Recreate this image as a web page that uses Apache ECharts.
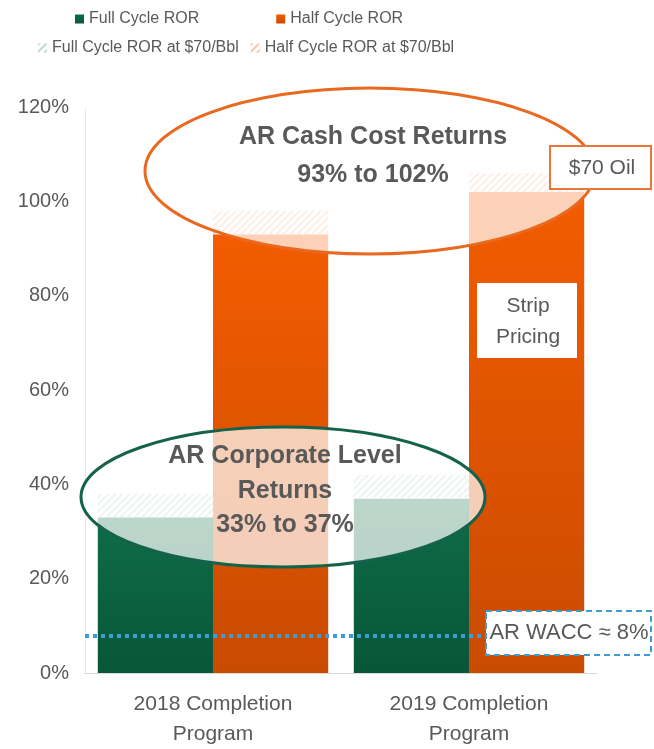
<!DOCTYPE html>
<html>
<head lang="en">
    <meta charset="UTF-8">
    <title>AR ROR</title>
    <style type="text/css">
        html, body { margin: 0; padding: 0; background: #fff; }
        #main { width: 654px; height: 749px; }
    </style>
</head>
<body>
<div id="main"></div>
<script type="text/javascript" src="https://cdn.jsdelivr.net/npm/echarts@6/dist/echarts.min.js"></script>
<script type="text/javascript">
    // data (percent)
    var categories = ['2018 Completion\nProgram', '2019 Completion\nProgram'];
    var fullCycle = [33, 37];
    var fullCycleAt70 = [38, 42];
    var halfCycle = [93, 102];
    var halfCycleAt70 = [98, 106];
    var waccLevel = 8;

    var fullExtra = fullCycleAt70.map(function (v, i) { return v - fullCycle[i]; });
    var halfExtra = halfCycleAt70.map(function (v, i) { return v - halfCycle[i]; });

    var grey = '#595959';
    var font = 'Liberation Sans, Arial, sans-serif';

    function hatch(c) {
        return {
            symbol: 'rect',
            symbolSize: 1,
            color: c,
            dashArrayX: [1, 0],
            dashArrayY: [2, 3],
            rotation: -Math.PI / 4
        };
    }

    var greenGrad = new echarts.graphic.LinearGradient(0, 0, 0, 1, [
        {offset: 0, color: '#0f6c48'}, {offset: 1, color: '#08563a'}
    ]);
    var orangeGrad = new echarts.graphic.LinearGradient(0, 0, 0, 1, [
        {offset: 0, color: '#f35c00'}, {offset: 1, color: '#c94b02'}
    ]);

    function label(txt, x, y, size, bold) {
        return { type: 'text', z: 103, x: x, y: y,
            style: { text: txt, fill: grey, font: (bold ? 'bold ' : '') + size + 'px ' + font,
                textAlign: 'center', textVerticalAlign: 'middle' } };
    }

    var myChart = echarts.init(document.getElementById('main'));
    var option = {
        animation: false,
        textStyle: { fontFamily: font },
        legend: [{
            data: ['Full Cycle ROR', 'Half Cycle ROR'],
            left: 70, top: 6,
            itemGap: 77, itemWidth: 9, itemHeight: 9, icon: 'rect',
            textStyle: { color: grey, fontSize: 16, fontFamily: font }
        }, {
            data: ['Full Cycle ROR at $70/Bbl', 'Half Cycle ROR at $70/Bbl'],
            left: 33, top: 35,
            itemGap: 12, itemWidth: 9, itemHeight: 9, icon: 'rect',
            textStyle: { color: grey, fontSize: 16, fontFamily: font }
        }],
        grid: { left: 85, right: 57, top: 107, bottom: 73 },
        xAxis: {
            type: 'category',
            data: categories,
            axisTick: { show: false },
            axisLine: { lineStyle: { color: '#d9d9d9', width: 1 } },
            axisLabel: { color: grey, fontSize: 21, lineHeight: 30, margin: 16, fontFamily: font }
        },
        yAxis: {
            type: 'value',
            min: 0, max: 120, interval: 20,
            splitLine: { show: false },
            axisLine: { show: true, lineStyle: { color: '#e3e3e3', type: 'dotted' } },
            axisLabel: { color: grey, fontSize: 20, margin: 16, formatter: '{value}%', fontFamily: font }
        },
        series: [{
            name: 'Full Cycle ROR',
            type: 'bar', stack: 'full',
            barGap: '0%', barCategoryGap: '10%',
            itemStyle: { color: greenGrad },
            data: fullCycle
        }, {
            name: 'Full Cycle ROR at $70/Bbl',
            type: 'bar', stack: 'full',
            itemStyle: { color: '#ffffff', decal: hatch('#bed7d0') },
            data: fullExtra
        }, {
            name: 'Half Cycle ROR',
            type: 'bar', stack: 'half',
            itemStyle: { color: orangeGrad },
            data: halfCycle,
            markLine: {
                silent: true,
                symbol: 'none',
                label: { show: false },
                lineStyle: { color: '#3d9dd3', width: 4, type: [4, 4] },
                data: [{ yAxis: waccLevel }]
            }
        }, {
            name: 'Half Cycle ROR at $70/Bbl',
            type: 'bar', stack: 'half',
            itemStyle: { color: '#ffffff', decal: hatch('#f6c6a9') },
            data: halfExtra
        }],
        graphic: [
            // orange ellipse
            { type: 'ellipse', z: 100, shape: { cx: 370, cy: 171, rx: 225, ry: 83 },
              style: { fill: 'rgba(255,255,255,0.72)', stroke: '#e8691f', lineWidth: 3 } },
            label('AR Cash Cost Returns', 373, 137, 25, true),
            label('93% to 102%', 373, 175, 25, true),
            // green ellipse
            { type: 'ellipse', z: 100, shape: { cx: 283, cy: 497, rx: 202, ry: 70 },
              style: { fill: 'rgba(255,255,255,0.72)', stroke: '#15624a', lineWidth: 3 } },
            label('AR Corporate Level', 285, 456, 25, true),
            label('Returns', 285, 491, 25, true),
            label('33% to 37%', 285, 525, 25, true),
            // $70 Oil box
            { type: 'rect', z: 102, shape: { x: 550, y: 146, width: 101, height: 43 },
              style: { fill: '#ffffff', stroke: '#e9773a', lineWidth: 2 } },
            label('$70 Oil', 602, 168, 21, false),
            // Strip pricing box
            { type: 'rect', z: 102, shape: { x: 477, y: 283, width: 100, height: 75 },
              style: { fill: '#ffffff' } },
            label('Strip', 528, 306, 21, false),
            label('Pricing', 528, 337, 21, false),
            // WACC box
            { type: 'rect', z: 102, shape: { x: 486, y: 611, width: 165, height: 44 },
              style: { fill: '#ffffff', stroke: '#3d9dd3', lineWidth: 2, lineDash: [6, 4] } },
            label('AR WACC \u2248 8%', 569, 633, 22, false)
        ]
    };
    myChart.setOption(option);
</script>
</body>
</html>
